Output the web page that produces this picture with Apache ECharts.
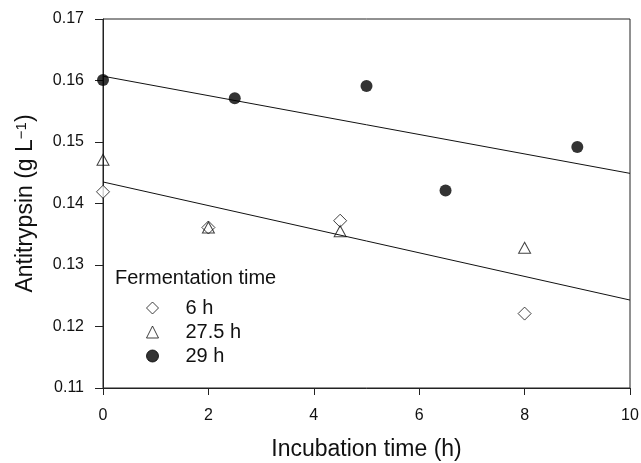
<!DOCTYPE html>
<html>
<head>
<meta charset="utf-8">
<script src="https://cdn.jsdelivr.net/npm/echarts@6/dist/echarts.min.js"></script>
<style>html,body{margin:0;padding:0;background:#fff}#c{width:641px;height:463px}</style>
</head>
<body>
<div id="c"></div>
<script>
const xTicks = [0, 2, 4, 6, 8, 10];
const yTicks = [0.11, 0.12, 0.13, 0.14, 0.15, 0.16, 0.17];
const seriesNames = ['6 h', '27.5 h', '29 h'];
const x6h = [0, 2, 4.5, 8];
const y6h = [0.1419, 0.1361, 0.1372, 0.1221];
const x275h = [0, 2, 4.5, 8];
const y275h = [0.1471, 0.1361, 0.1355, 0.1328];
const x29h = [0, 2.5, 5, 6.5, 9];
const y29h = [0.1601, 0.1571, 0.1591, 0.1421, 0.1492];
const fitX = [0, 10];
const fitUpper = [0.1607, 0.1449];
const fitLower = [0.1435, 0.1243];

const zip = (xs, ys) => xs.map((x, i) => [x, ys[i]]);
const font = 'Liberation Sans, Arial, sans-serif';

const chart = echarts.init(document.getElementById('c'), null, {renderer: 'canvas'});
chart.setOption({
  animation: false,
  backgroundColor: '#fff',
  title: {
    text: 'Fermentation time',
    left: 110, top: 263,
    textStyle: {fontFamily: font, fontSize: 20, fontWeight: 'normal', color: '#111'}
  },
  legend: {
    orient: 'vertical',
    left: 141, top: 293,
    itemWidth: 12, itemHeight: 12, itemGap: 4,
    itemStyle: {borderWidth: 1},
    textStyle: {fontFamily: font, fontSize: 20, color: '#111', padding: [0, 0, 0, 22]},
    data: seriesNames
  },
  grid: {left: 103, right: 11, top: 19, bottom: 75, show: true, borderColor: '#222', borderWidth: 1,
    containLabel: false, outerBoundsMode: 'none'},
  xAxis: {
    type: 'value', min: 0, max: 10, interval: 2,
    name: 'Incubation time (h)', nameLocation: 'middle', nameGap: 50,
    nameTextStyle: {fontFamily: font, fontSize: 23, color: '#111'},
    axisLine: {show: true, onZero: false, lineStyle: {color: '#222', width: 1}},
    axisTick: {show: true, length: 7, lineStyle: {color: '#222'}},
    axisLabel: {fontFamily: font, fontSize: 16, color: '#111', margin: 20,
      formatter: v => xTicks.includes(v) ? String(v) : ''},
    splitLine: {show: false}
  },
  yAxis: {
    type: 'value', min: 0.11, max: 0.17, interval: 0.01,
    name: 'Antitrypsin (g L{sup|−1})', nameLocation: 'middle', nameGap: 66,
    nameTextStyle: {fontFamily: font, fontSize: 23, color: '#111',
      rich: {sup: {fontFamily: font, fontSize: 15, color: '#111', verticalAlign: 'top', lineHeight: 16, padding: [0, 0, 10, 0]}}},
    axisLine: {show: true, lineStyle: {color: '#222', width: 1}},
    axisTick: {show: true, length: 8, lineStyle: {color: '#222'}},
    axisLabel: {fontFamily: font, fontSize: 16, color: '#111', margin: 19,
      formatter: v => { const t = yTicks.find(k => Math.abs(k - v) < 1e-9); return t !== undefined ? t.toFixed(2) : ''; }},
    splitLine: {show: false}
  },
  series: [
    {name: 'fitUpper', type: 'line', data: zip(fitX, fitUpper), symbol: 'none',
      lineStyle: {color: '#111', width: 1}, z: 1, silent: true},
    {name: 'fitLower', type: 'line', data: zip(fitX, fitLower), symbol: 'none',
      lineStyle: {color: '#111', width: 1}, z: 1, silent: true},
    {name: seriesNames[0], type: 'scatter', data: zip(x6h, y6h), symbol: 'diamond', symbolSize: 13,
      itemStyle: {color: '#fff', borderColor: '#111', borderWidth: 1}, z: 3},
    {name: seriesNames[1], type: 'scatter', data: zip(x275h, y275h), symbol: 'triangle', symbolSize: [12, 11],
      itemStyle: {color: 'rgba(255,255,255,0)', borderColor: '#111', borderWidth: 1}, z: 3},
    {name: seriesNames[2], type: 'scatter', data: zip(x29h, y29h), symbol: 'circle', symbolSize: 12,
      itemStyle: {color: '#000', borderColor: '#000', borderWidth: 0}, z: 3}
  ]
});
</script>
</body>
</html>
